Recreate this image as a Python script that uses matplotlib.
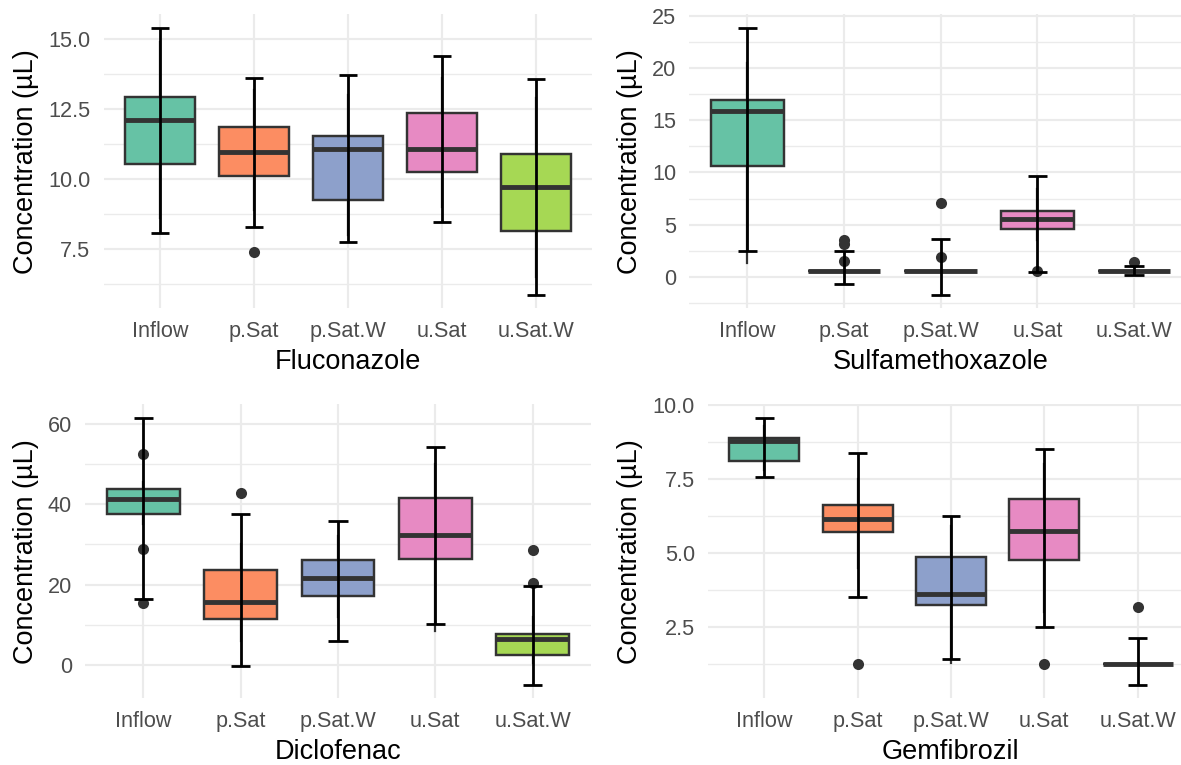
import matplotlib
matplotlib.use("Agg")
import matplotlib.pyplot as plt
from matplotlib.ticker import MultipleLocator, FormatStrFormatter

plt.rcParams['font.family'] = ['Liberation Sans', 'DejaVu Sans']

groups = ["Inflow", "p.Sat", "p.Sat.W", "u.Sat", "u.Sat.W"]
fills = ["#66C2A5", "#FC8D62", "#8DA0CB", "#E78AC3", "#A6D854"]
ylabel = "Concentration (µL)"

# ---- Fluconazole ----
fluc_q1 = [10.54, 10.11, 9.25, 10.26, 8.15]
fluc_med = [12.11, 10.96, 11.07, 11.08, 9.70]
fluc_q3 = [12.94, 11.87, 11.55, 12.35, 10.88]
fluc_wlo = [8.6, 8.9, 8.0, 9.0, 6.5]
fluc_whi = [14.9, 13.2, 13.0, 13.6, 12.9]
fluc_out = [[], [7.38], [], [], []]
fluc_elo = [8.08, 8.27, 7.73, 8.46, 5.85]
fluc_ehi = [15.42, 13.60, 13.71, 14.42, 13.57]

# ---- Sulfamethoxazole ----
sulf_q1 = [10.64, 0.6, 0.6, 4.59, 0.6]
sulf_med = [15.83, 0.6, 0.6, 5.54, 0.6]
sulf_q3 = [16.94, 0.6, 0.6, 6.27, 0.6]
sulf_wlo = [1.34, 0.6, 0.6, 3.5, 0.6]
sulf_whi = [20.5, 0.6, 0.6, 8.4, 0.6]
sulf_out = [[], [1.56, 3.18, 3.5], [1.88, 7.07], [0.6], [1.4]]
sulf_elo = [2.45, -0.67, -1.72, 0.45, 0.22]
sulf_ehi = [23.85, 2.45, 3.63, 9.68, 1.08]

# ---- Diclofenac ----
dicl_q1 = [37.7, 11.5, 17.2, 26.4, 2.5]
dicl_med = [41.3, 15.7, 21.7, 32.3, 6.4]
dicl_q3 = [43.8, 23.7, 26.2, 41.6, 7.7]
dicl_wlo = [35.0, 6.0, 12.0, 8.3, 0.5]
dicl_whi = [45.5, 30.0, 32.0, 50.0, 12.0]
dicl_out = [[52.5, 28.8, 15.4], [42.8], [], [], [20.5, 28.5]]
dicl_elo = [16.4, -0.25, 6.0, 10.1, -5.1]
dicl_ehi = [61.7, 37.6, 35.9, 54.3, 19.7]

# ---- Gemfibrozil ----
gemf_q1 = [8.11, 5.70, 3.25, 4.75, 1.25]
gemf_med = [8.78, 6.15, 3.61, 5.73, 1.25]
gemf_q3 = [8.90, 6.63, 4.88, 6.83, 1.25]
gemf_wlo = [7.8, 4.5, 1.29, 3.0, 1.25]
gemf_whi = [9.3, 7.5, 5.9, 8.0, 1.25]
gemf_out = [[], [1.25], [], [1.25], [3.19]]
gemf_elo = [7.57, 3.53, 1.42, 2.50, 0.55]
gemf_ehi = [9.57, 8.37, 6.26, 8.52, 2.13]

W, H = 1181, 765
fig = plt.figure(figsize=(W / 100, H / 100), dpi=100)


def panel(rect_px, title, q1, med, q3, wlo, whi, outs, elo, ehi, major, fmt, ylab_x):
    l, t, r, b = rect_px
    ax = fig.add_axes([l / W, 1 - b / H, (r - l) / W, (b - t) / H])
    pos = list(range(len(groups)))
    stats = []
    for i in pos:
        stats.append(dict(q1=q1[i], med=med[i], q3=q3[i], whislo=wlo[i],
                          whishi=whi[i], fliers=outs[i]))
    bp = ax.bxp(stats, positions=pos, widths=0.75, patch_artist=True,
                showcaps=False,
                boxprops=dict(edgecolor="#333333", linewidth=1.75),
                medianprops=dict(color="#333333", linewidth=3.5,
                                 solid_capstyle="butt"),
                whiskerprops=dict(color="#333333", linewidth=1.6),
                flierprops=dict(marker="o", markerfacecolor="#333333",
                                markeredgecolor="none", markersize=8),
                zorder=2)
    for patch, c in zip(bp["boxes"], fills):
        patch.set_facecolor(c)
    ax.vlines(pos, elo, ehi, color="black", linewidth=2.0, zorder=4)
    ax.hlines(elo, [p - 0.1 for p in pos], [p + 0.1 for p in pos],
              color="black", linewidth=2.0, zorder=4)
    ax.hlines(ehi, [p - 0.1 for p in pos], [p + 0.1 for p in pos],
              color="black", linewidth=2.0, zorder=4)

    allv = list(elo) + list(ehi) + list(wlo) + list(whi) + [v for o in outs for v in o]
    lo, hi = min(allv), max(allv)
    rng = hi - lo
    ax.set_ylim(lo - 0.05 * rng, hi + 0.05 * rng)
    ax.set_xlim(-0.6, len(groups) - 0.4)
    ax.set_xticks(pos)
    ax.set_xticklabels(groups)
    ax.yaxis.set_major_locator(MultipleLocator(major))
    ax.yaxis.set_minor_locator(MultipleLocator(major / 2))
    ax.yaxis.set_major_formatter(FormatStrFormatter(fmt))
    ax.grid(which="major", color="#EBEBEB", linewidth=1.55)
    ax.grid(which="minor", axis="y", color="#EBEBEB", linewidth=1.0)
    ax.set_axisbelow(True)
    for s in ax.spines.values():
        s.set_visible(False)
    ax.tick_params(axis="both", which="both", length=0, labelsize=15.6,
                   labelcolor="#4D4D4D")
    ax.tick_params(axis="y", pad=9.5)
    ax.tick_params(axis="x", pad=9.3)
    ax.set_xlabel(title, fontsize=19.5, color="black", va="center")
    ax.xaxis.set_label_coords(0.5, -0.183)
    ax.set_ylabel(ylabel, fontsize=19.5, color="black", va="center")
    ax.yaxis.set_label_coords((ylab_x - l) / (r - l), 0.5)
    return ax


panel((103.6, 14.3, 592.4, 308.3), "Fluconazole", fluc_q1, fluc_med, fluc_q3,
      fluc_wlo, fluc_whi, fluc_out, fluc_elo, fluc_ehi, 2.5, "%.1f", 26)
panel((689.3, 14.3, 1192.1, 308.3), "Sulfamethoxazole", sulf_q1, sulf_med, sulf_q3,
      sulf_wlo, sulf_whi, sulf_out, sulf_elo, sulf_ehi, 5, "%d", 630)
panel((85.0, 404.3, 591.0, 698.3), "Diclofenac", dicl_q1, dicl_med, dicl_q3,
      dicl_wlo, dicl_whi, dicl_out, dicl_elo, dicl_ehi, 20, "%d", 26)
panel((708.3, 404.3, 1193.5, 698.3), "Gemfibrozil", gemf_q1, gemf_med, gemf_q3,
      gemf_wlo, gemf_whi, gemf_out, gemf_elo, gemf_ehi, 2.5, "%.1f", 630)

fig.savefig("out.png", dpi=100)
